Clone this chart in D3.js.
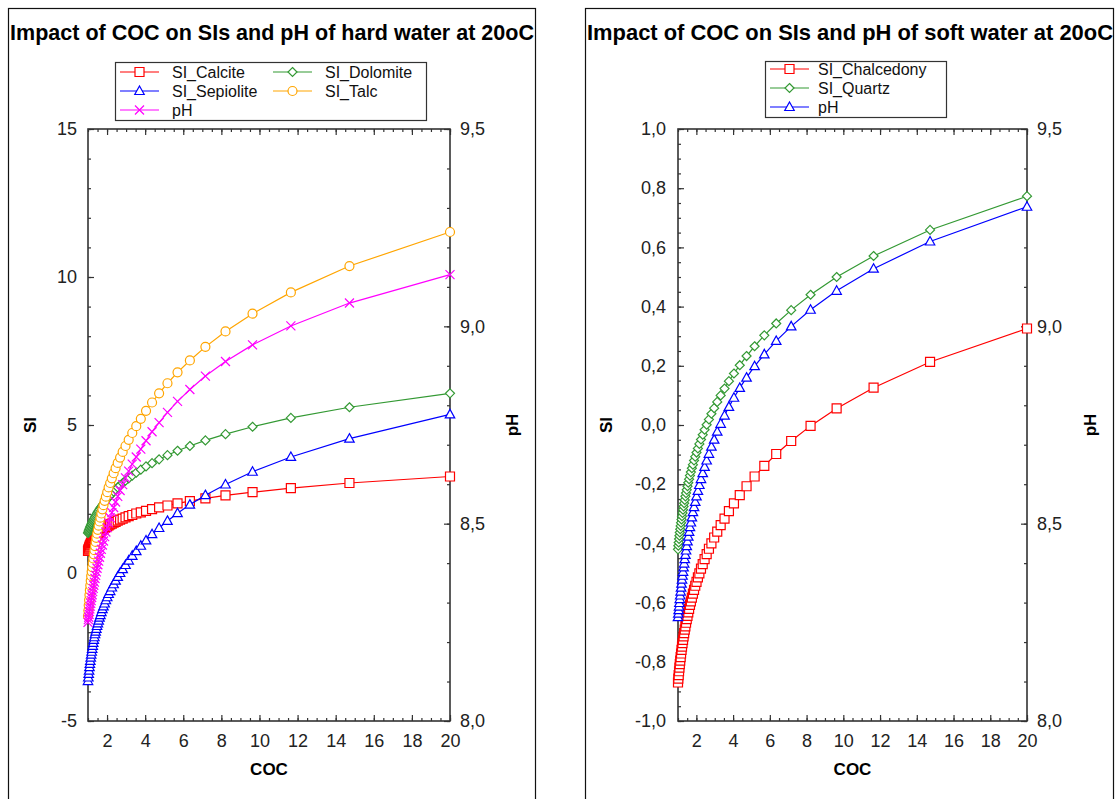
<!DOCTYPE html>
<html>
<head>
<meta charset="utf-8">
<script src="https://cdn.jsdelivr.net/npm/d3@7"></script>
<style>
body { margin: 0; background: #fff; }
svg text { font-family: "Liberation Sans", Arial, sans-serif; }
</style>
</head>
<body>
<script>
// ---- data ----
var coc = [1.000, 1.018, 1.037, 1.057, 1.077, 1.098, 1.121, 1.144, 1.167, 1.192,
  1.218, 1.246, 1.274, 1.304, 1.335, 1.368, 1.402, 1.438, 1.476, 1.517,
  1.559, 1.604, 1.651, 1.701, 1.755, 1.812, 1.873, 1.938, 2.008, 2.083,
  2.163, 2.251, 2.345, 2.448, 2.560, 2.684, 2.819, 2.969, 3.136, 3.323,
  3.533, 3.772, 4.046, 4.362, 4.732, 5.171, 5.699, 6.347, 7.162, 8.217,
  9.636, 11.648, 14.722, 20.000];

var hardCalcite = [0.75, 0.79, 0.82, 0.86, 0.89, 0.93, 0.96, 0.99, 1.02, 1.05,
  1.08, 1.11, 1.14, 1.17, 1.20, 1.23, 1.25, 1.28, 1.31, 1.33,
  1.36, 1.39, 1.41, 1.44, 1.47, 1.50, 1.52, 1.55, 1.58, 1.61,
  1.64, 1.67, 1.70, 1.73, 1.77, 1.80, 1.84, 1.88, 1.92, 1.96,
  2.01, 2.05, 2.10, 2.16, 2.22, 2.28, 2.35, 2.43, 2.52, 2.62,
  2.73, 2.87, 3.04, 3.26];
var hardDolomite = [1.35, 1.38, 1.42, 1.45, 1.49, 1.52, 1.56, 1.59, 1.63, 1.66,
  1.70, 1.74, 1.78, 1.81, 1.85, 1.89, 1.93, 1.97, 2.02, 2.06,
  2.10, 2.15, 2.20, 2.24, 2.29, 2.34, 2.40, 2.45, 2.51, 2.56,
  2.62, 2.68, 2.75, 2.82, 2.89, 2.96, 3.04, 3.12, 3.20, 3.29,
  3.39, 3.49, 3.60, 3.71, 3.84, 3.98, 4.13, 4.29, 4.48, 4.69,
  4.94, 5.24, 5.60, 6.07];
var hardSepiolite = [-3.65, -3.53, -3.41, -3.30, -3.18, -3.07, -2.97, -2.86, -2.76, -2.66,
  -2.56, -2.46, -2.36, -2.26, -2.17, -2.07, -1.98, -1.89, -1.79, -1.70,
  -1.61, -1.51, -1.42, -1.32, -1.22, -1.13, -1.03, -0.92, -0.82, -0.71,
  -0.61, -0.49, -0.38, -0.26, -0.13, 0.00, 0.13, 0.27, 0.42, 0.58,
  0.74, 0.92, 1.10, 1.31, 1.52, 1.76, 2.02, 2.31, 2.63, 2.99,
  3.42, 3.92, 4.54, 5.36];
var hardTalc = [-1.45, -1.27, -1.09, -0.91, -0.74, -0.58, -0.42, -0.26, -0.10, 0.05,
  0.20, 0.34, 0.49, 0.63, 0.77, 0.91, 1.05, 1.19, 1.33, 1.46,
  1.60, 1.74, 1.87, 2.01, 2.15, 2.29, 2.44, 2.58, 2.73, 2.89,
  3.04, 3.20, 3.37, 3.54, 3.72, 3.90, 4.09, 4.29, 4.50, 4.73,
  4.96, 5.21, 5.48, 5.76, 6.07, 6.41, 6.78, 7.18, 7.64, 8.16,
  8.76, 9.48, 10.37, 11.52];
var hardPH = [8.250, 8.257, 8.263, 8.270, 8.277, 8.284, 8.291, 8.298, 8.305, 8.313,
  8.320, 8.328, 8.336, 8.344, 8.352, 8.361, 8.369, 8.378, 8.387, 8.396,
  8.405, 8.415, 8.425, 8.435, 8.446, 8.456, 8.467, 8.479, 8.490, 8.502,
  8.515, 8.528, 8.541, 8.555, 8.569, 8.584, 8.599, 8.616, 8.633, 8.651,
  8.669, 8.689, 8.710, 8.733, 8.756, 8.782, 8.810, 8.840, 8.874, 8.911,
  8.953, 9.001, 9.059, 9.131];

var softChalcedony = [-0.870, -0.857, -0.845, -0.832, -0.820, -0.808, -0.796, -0.784, -0.772, -0.760,
  -0.749, -0.737, -0.726, -0.714, -0.703, -0.691, -0.680, -0.668, -0.656, -0.645,
  -0.633, -0.621, -0.608, -0.596, -0.583, -0.570, -0.557, -0.543, -0.530, -0.515,
  -0.501, -0.485, -0.470, -0.453, -0.436, -0.418, -0.400, -0.380, -0.360, -0.338,
  -0.316, -0.291, -0.265, -0.237, -0.207, -0.174, -0.138, -0.098, -0.054, -0.003,
  0.056, 0.126, 0.213, 0.326];
var softQuartz = [-0.420, -0.408, -0.397, -0.385, -0.374, -0.363, -0.352, -0.341, -0.330, -0.319,
  -0.308, -0.297, -0.286, -0.275, -0.264, -0.253, -0.241, -0.230, -0.219, -0.207,
  -0.195, -0.183, -0.171, -0.159, -0.146, -0.134, -0.120, -0.107, -0.093, -0.079,
  -0.064, -0.049, -0.033, -0.016, 0.001, 0.019, 0.038, 0.057, 0.078, 0.100,
  0.123, 0.148, 0.174, 0.202, 0.233, 0.266, 0.303, 0.343, 0.388, 0.440,
  0.500, 0.571, 0.659, 0.773];
var softPH = [8.263, 8.272, 8.281, 8.290, 8.299, 8.309, 8.318, 8.328, 8.338, 8.348,
  8.358, 8.368, 8.378, 8.389, 8.399, 8.410, 8.421, 8.432, 8.443, 8.455,
  8.467, 8.479, 8.491, 8.503, 8.516, 8.529, 8.542, 8.555, 8.569, 8.583,
  8.598, 8.613, 8.628, 8.644, 8.660, 8.677, 8.695, 8.713, 8.733, 8.753,
  8.774, 8.796, 8.819, 8.844, 8.870, 8.899, 8.929, 8.963, 9.000, 9.042,
  9.090, 9.146, 9.215, 9.303];

var xTickLabels = [2, 4, 6, 8, 10, 12, 14, 16, 18, 20];
var hardSITicks = [-5, 0, 5, 10, 15];
var softSITicks = [-1.0, -0.8, -0.6, -0.4, -0.2, 0.0, 0.2, 0.4, 0.6, 0.8, 1.0];
var pHTicks = [8.0, 8.5, 9.0, 9.5];

// ---- drawing ----
var svg = d3.select("body").append("svg")
    .attr("width", 1117)
    .attr("height", 799);

var loc = d3.formatLocale({decimal: ",", thousands: ".", grouping: [3], currency: ["", ""], minus: "-"});
var fmtInt = loc.format("d"),
    fmtDec = loc.format(".1f");

var markerPath = function(type, s) {
    if (type == "square")
        return "M" + (-s) + "," + (-s) + "H" + s + "V" + s + "H" + (-s) + "Z";
    if (type == "circle")
        return "M" + s + ",0A" + s + "," + s + " 0 1,1 " + (-s) + ",0A" + s + "," + s + " 0 1,1 " + s + ",0Z";
    if (type == "diamond")
        return "M0," + (-s) + "L" + s + ",0L0," + s + "L" + (-s) + ",0Z";
    if (type == "triangle")
        return "M0," + (-s) + "L" + (s * 0.95) + "," + (s * 0.7) + "L" + (-s * 0.95) + "," + (s * 0.7) + "Z";
    // cross
    return "M" + (-s) + "," + (-s) + "L" + s + "," + s + "M" + (-s) + "," + s + "L" + s + "," + (-s);
};

var addMarker = function(sel, ser) {
    sel.append("path")
        .attr("d", markerPath(ser.marker, ser.size))
        .attr("fill", ser.marker == "cross" ? "none" : "#fff")
        .attr("stroke", ser.color)
        .attr("stroke-width", 1.2);
};

var styleAxis = function(g) {
    g.select(".domain").remove();
    g.selectAll("line").attr("stroke", "#333").attr("stroke-width", 1.2);
    g.attr("font-family", "Liberation Sans, Arial, sans-serif")
        .attr("font-size", 18)
        .selectAll("text").attr("fill", "#222");
};

var drawPanel = function(p) {
    var g = svg.append("g");

    g.append("rect")
        .attr("x", p.frame[0] + 0.5).attr("y", p.frame[1] + 0.5)
        .attr("width", p.frame[2]).attr("height", p.frame[3])
        .attr("fill", "none").attr("stroke", "#111").attr("stroke-width", 1.2);

    g.append("text")
        .attr("x", p.titleX).attr("y", 40)
        .attr("textLength", p.titleLen).attr("lengthAdjust", "spacingAndGlyphs")
        .style("font-size", "21.5px").style("font-weight", "bold")
        .text(p.title);

    var x = d3.scaleLinear().domain([1, 20]).range([p.left, p.right]);
    var yL = d3.scaleLinear().domain(p.siDomain).range([p.bottom, p.top]);
    var yR = d3.scaleLinear().domain([8, 9.5]).range([p.bottom, p.top]);

    var xMinor = d3.range(1, 20.001, 0.5);
    var pHMinor = d3.range(8, 9.5001, 0.1);
    var siMinor = d3.range(p.siDomain[0], p.siDomain[1] + 1e-6, p.siMinorStep);

    // minor ticks, all four sides
    g.append("g").attr("transform", "translate(0," + p.bottom + ")")
        .call(d3.axisBottom(x).tickValues(xMinor).tickSize(-3).tickFormat("")).call(styleAxis);
    g.append("g").attr("transform", "translate(0," + p.top + ")")
        .call(d3.axisTop(x).tickValues(xMinor).tickSize(-3).tickFormat("")).call(styleAxis);
    g.append("g").attr("transform", "translate(" + p.left + ",0)")
        .call(d3.axisLeft(yL).tickValues(siMinor).tickSize(-3).tickFormat("")).call(styleAxis);
    g.append("g").attr("transform", "translate(" + p.right + ",0)")
        .call(d3.axisRight(yR).tickValues(pHMinor).tickSize(-3).tickFormat("")).call(styleAxis);

    // major ticks + labels
    g.append("g").attr("transform", "translate(0," + p.bottom + ")")
        .call(d3.axisBottom(x).tickValues(xTickLabels).tickSize(-6).tickPadding(13).tickFormat(fmtInt)).call(styleAxis);
    g.append("g").attr("transform", "translate(0," + p.top + ")")
        .call(d3.axisTop(x).tickValues(xTickLabels).tickSize(-6).tickFormat("")).call(styleAxis);
    g.append("g").attr("transform", "translate(" + p.left + ",0)")
        .call(d3.axisLeft(yL).tickValues(p.siTicks).tickSize(-6).tickPadding(p.leftPad).tickFormat(p.siFormat)).call(styleAxis);
    g.append("g").attr("transform", "translate(" + p.right + ",0)")
        .call(d3.axisRight(yR).tickValues(pHTicks).tickSize(-6).tickPadding(10).tickFormat(fmtDec)).call(styleAxis);

    g.append("rect")
        .attr("x", p.left).attr("y", p.top)
        .attr("width", p.right - p.left).attr("height", p.bottom - p.top)
        .attr("fill", "none").attr("stroke", "#333").attr("stroke-width", 1.6);

    // axis titles
    var midY = (p.top + p.bottom) / 2;
    g.append("text").attr("transform", "translate(" + p.siLabelX + "," + midY + ") rotate(-90)")
        .attr("text-anchor", "middle").attr("dy", "0.35em")
        .style("font-size", "17px").style("font-weight", "bold").text("SI");
    g.append("text").attr("transform", "translate(" + p.phLabelX + "," + midY + ") rotate(-90)")
        .attr("text-anchor", "middle").attr("dy", "0.35em")
        .style("font-size", "17px").style("font-weight", "bold").text("pH");
    g.append("text").attr("x", (p.left + p.right) / 2).attr("y", 775)
        .attr("text-anchor", "middle")
        .style("font-size", "17px").style("font-weight", "bold").text("COC");

    // series
    p.series.forEach(function(ser) {
        var y = ser.axis == "pH" ? yR : yL;
        var pts = coc.map(function(c, i) { return [x(c), y(ser.values[i])]; });
        var sg = g.append("g");
        sg.append("path")
            .attr("d", d3.line()(pts))
            .attr("fill", "none").attr("stroke", ser.color).attr("stroke-width", 1.2);
        sg.selectAll(".m").data(pts).enter().append("g")
            .attr("class", "m")
            .attr("transform", function(d) { return "translate(" + d[0] + "," + d[1] + ")"; })
            .each(function() { addMarker(d3.select(this), ser); });
    });

    // legend
    var L = p.legend;
    g.append("rect")
        .attr("x", L.box[0] + 0.5).attr("y", L.box[1] + 0.5)
        .attr("width", L.box[2]).attr("height", L.box[3])
        .attr("fill", "#fff").attr("stroke", "#333").attr("stroke-width", 1.2);
    p.series.forEach(function(ser) {
        var lx = L.cols[ser.col], ly = L.rows[ser.row];
        var lg = g.append("g");
        lg.append("line")
            .attr("x1", lx).attr("x2", lx + L.lineLen).attr("y1", ly).attr("y2", ly)
            .attr("stroke", ser.color).attr("stroke-width", 1.2);
        var mg = lg.append("g").attr("transform", "translate(" + (lx + L.lineLen / 2) + "," + ly + ")");
        addMarker(mg, ser);
        lg.append("text")
            .attr("x", lx + L.textOff).attr("y", ly).attr("dy", "0.35em")
            .style("font-size", "16px").attr("fill", "#111")
            .text(ser.name);
    });
};

var hardSeries = [
    {name: "SI_Calcite", values: hardCalcite, axis: "SI", color: "#ff0000", marker: "square", size: 4.5, col: 0, row: 0},
    {name: "SI_Dolomite", values: hardDolomite, axis: "SI", color: "#339933", marker: "diamond", size: 4.5, col: 1, row: 0},
    {name: "SI_Sepiolite", values: hardSepiolite, axis: "SI", color: "#0000ff", marker: "triangle", size: 5, col: 0, row: 1},
    {name: "SI_Talc", values: hardTalc, axis: "SI", color: "#ffa500", marker: "circle", size: 4.5, col: 1, row: 1},
    {name: "pH", values: hardPH, axis: "pH", color: "#ff00ff", marker: "cross", size: 4.5, col: 0, row: 2}
];

var softSeries = [
    {name: "SI_Chalcedony", values: softChalcedony, axis: "SI", color: "#ff0000", marker: "square", size: 4.5, col: 0, row: 0},
    {name: "SI_Quartz", values: softQuartz, axis: "SI", color: "#339933", marker: "diamond", size: 4.5, col: 0, row: 1},
    {name: "pH", values: softPH, axis: "pH", color: "#0000ff", marker: "triangle", size: 5, col: 0, row: 2}
];

drawPanel({
    frame: [8, 8, 527, 830],
    title: "Impact of COC on SIs and pH of hard water at 20oC", titleX: 10, titleLen: 524,
    left: 88, right: 450, top: 129, bottom: 721,
    siDomain: [-5, 15], siMinorStep: 1, siTicks: hardSITicks, siFormat: fmtInt, leftPad: 11,
    siLabelX: 30, phLabelX: 512,
    series: hardSeries,
    legend: {box: [115, 62, 311, 58], cols: [120, 273], rows: [72, 91, 110], lineLen: 39, textOff: 52}
});

drawPanel({
    frame: [585, 8, 528, 830],
    title: "Impact of COC on SIs and pH of soft water at 20oC", titleX: 587, titleLen: 526,
    left: 678, right: 1027, top: 129, bottom: 721,
    siDomain: [-1, 1], siMinorStep: 0.05, siTicks: softSITicks, siFormat: fmtDec, leftPad: 12,
    siLabelX: 606, phLabelX: 1090,
    series: softSeries,
    legend: {box: [765, 61, 181, 56], cols: [770], rows: [69, 88, 107], lineLen: 39, textOff: 48}
});
</script>
</body>
</html>
